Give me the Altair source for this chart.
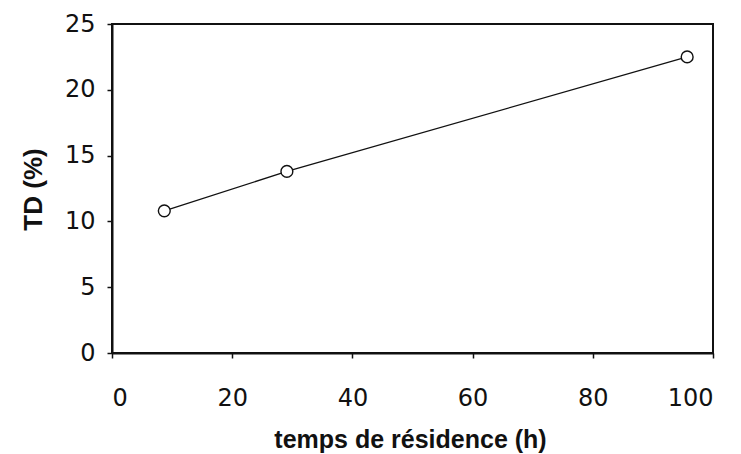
import altair as alt
import pandas as pd

# Data
temps_h = [8.7, 29.1, 95.7]
td_pct = [10.8, 13.8, 22.5]
x_ticks = [0, 20, 40, 60, 80, 100]
y_ticks = [0, 5, 10, 15, 20, 25]

df = pd.DataFrame({"temps": temps_h, "td": td_pct})

TITLE_FONT = "Liberation Sans"
LABEL_FONT = "DejaVu Sans"

x_enc = alt.X(
    "temps:Q",
    scale=alt.Scale(domain=[0, 100], nice=False),
    axis=alt.Axis(
        values=x_ticks,
        title="temps de résidence (h)",
        titleFont=TITLE_FONT,
        titleFontSize=25,
        titleFontWeight="bold",
        titleColor="#111",
        titleX=298,
        titleY=94,
        titleBaseline="alphabetic",
        titleAnchor="start",
        titleAlign="center",
        labelFont=LABEL_FONT,
        labelFontSize=24,
        labelColor="#111",
        labelPadding=28,
        tickSize=5,
        tickColor="#111",
        tickWidth=1.5,
        domainColor="#111",
        domainWidth=2,
        grid=False,
    ),
)
y_enc = alt.Y(
    "td:Q",
    scale=alt.Scale(domain=[0, 25], nice=False),
    axis=alt.Axis(
        values=y_ticks,
        title="TD (%)",
        titleFont=TITLE_FONT,
        titleFontSize=26,
        titleFontWeight="bold",
        titleColor="#111",
        titleAngle=-90,
        titleX=-79,
        titleY=165,
        titleBaseline="middle",
        titleAlign="center",
        titleAnchor="start",
        labelFont=LABEL_FONT,
        labelFontSize=24,
        labelColor="#111",
        labelPadding=12,
        tickSize=5,
        tickColor="#111",
        tickWidth=1.5,
        domainColor="#111",
        domainWidth=2,
        grid=False,
    ),
)

line = alt.Chart(df).mark_line(color="#111", strokeWidth=1.3).encode(x=x_enc, y=y_enc)
points = alt.Chart(df).mark_point(
    shape="circle", filled=True, fill="white", stroke="#111", strokeWidth=1.4, size=140, opacity=1
).encode(x="temps:Q", y="td:Q")

chart = (
    alt.layer(line, points)
    .properties(
        width=601,
        height=329,
        autosize=alt.AutoSizeParams(type="none"),
        padding={"left": 104, "top": 16, "right": 20, "bottom": 100},
        background="white",
    )
    .configure_view(stroke="#111", strokeWidth=2)
)

chart.save("out.html", embed_options={"renderer": "svg", "actions": False})
